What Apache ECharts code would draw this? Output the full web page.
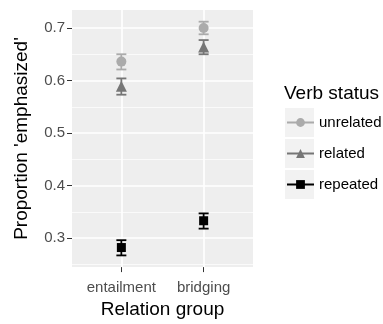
<!DOCTYPE html>
<html>
<head>
<meta charset="utf-8">
<script src="https://cdn.jsdelivr.net/npm/echarts@6/dist/echarts.min.js"></script>
<style>
  html, body { margin: 0; padding: 0; background: #fff; }
  #chart { width: 383px; height: 324px; }
</style>
</head>
<body>
<div id="chart"></div>
<script>
const groups = ["entailment", "bridging"];
const statuses = ["unrelated", "related", "repeated"];
const colors = ["#ababab", "#767676", "#000000"];
const shapes = ["circle", "triangle", "rect"];

// proportion emphasized and error bar ends, one value per relation group
const means = [
  [0.636, 0.700],
  [0.589, 0.664],
  [0.282, 0.333],
];
const lows = [
  [0.621, 0.688],
  [0.573, 0.650],
  [0.267, 0.318],
];
const highs = [
  [0.650, 0.712],
  [0.604, 0.677],
  [0.296, 0.347],
];

const yTicks = [0.3, 0.4, 0.5, 0.6, 0.7];
const yMinor = [0.25, 0.35, 0.45, 0.55, 0.65];
const xTicks = [1, 2];

const font = "'Liberation Sans', Arial, sans-serif";

// ggplot style 5% expansion
const allLo = Math.min(...lows.flat());
const allHi = Math.max(...highs.flat());
const pad = (allHi - allLo) * 0.05;

const series = [];
statuses.forEach((s, i) => {
  series.push({
    name: s,
    type: "line",
    data: groups.map((g, j) => [j + 1, means[i][j]]),
    symbol: shapes[i],
    symbolSize: shapes[i] === "rect" ? 9 : (shapes[i] === "triangle" ? 11 : 10),
    itemStyle: { color: colors[i] },
    lineStyle: { opacity: 0, color: colors[i] },
    z: 3,
  });
  series.push({
    name: s + " errorbar",
    type: "custom",
    renderItem: (params, api) => {
      const x = api.value(0);
      const top = api.coord([x, api.value(2)]);
      const bot = api.coord([x, api.value(1)]);
      const w = 5;
      const style = { stroke: colors[i], lineWidth: 1.8, fill: null };
      return {
        type: "group",
        children: [
          { type: "line", shape: { x1: top[0], y1: top[1], x2: bot[0], y2: bot[1] }, style },
          { type: "line", shape: { x1: top[0] - w, y1: top[1], x2: top[0] + w, y2: top[1] }, style },
          { type: "line", shape: { x1: bot[0] - w, y1: bot[1], x2: bot[0] + w, y2: bot[1] }, style },
        ],
      };
    },
    itemStyle: { color: colors[i] },
    data: groups.map((g, j) => [j + 1, lows[i][j], highs[i][j]]),
    z: 2,
  });
});

const chart = echarts.init(document.getElementById("chart"));
chart.setOption({
  animation: false,
  textStyle: { fontFamily: font },
  title: {
    text: "Verb status",
    left: 284,
    top: 84,
    padding: 0,
    textStyle: { fontSize: 19, fontWeight: "normal", color: "#000", fontFamily: font },
  },
  graphic: [0, 1, 2].map((k) => ({
    type: "rect",
    left: 285,
    top: 108 + k * 31,
    shape: { width: 29, height: 29 },
    style: { fill: "#f2f2f2" },
    z: 0,
  })),
  legend: {
    orient: "vertical",
    left: 286,
    top: 107,
    padding: 0,
    itemGap: 0,
    itemWidth: 27,
    itemHeight: 11,
    data: statuses,
    lineStyle: { width: 2, opacity: 1 },
    textStyle: { fontSize: 15, color: "#000", lineHeight: 31, fontFamily: font },
    selectedMode: false,
  },
  grid: {
    left: 72,
    right: 130,
    top: 10,
    bottom: 47,
    show: true,
    backgroundColor: "#eeeeee",
    borderWidth: 0,
  },
  xAxis: {
    type: "value",
    min: 0.4,
    max: 2.6,
    name: "Relation group",
    nameLocation: "middle",
    nameGap: 25,
    nameTextStyle: { fontSize: 19, color: "#000", fontFamily: font },
    axisLine: { show: false },
    axisTick: { show: true, length: 5, lineStyle: { color: "#333", width: 1 }, customValues: xTicks },
    axisLabel: {
      customValues: xTicks,
      margin: 13,
      fontSize: 15,
      color: "#4d4d4d",
      formatter: (v) => groups[Math.round(v) - 1],
    },
    splitLine: { show: true, lineStyle: { color: "#fff", width: 1.6 } },
  },
  yAxis: [
    {
      type: "value",
      min: allLo - pad,
      max: allHi + pad,
      name: "Proportion 'emphasized'",
      nameLocation: "middle",
      nameGap: 41,
      nameTextStyle: { fontSize: 19, color: "#000", fontFamily: font },
      axisLine: { show: false },
      axisTick: { show: true, length: 5, lineStyle: { color: "#333", width: 1 }, customValues: yTicks },
      axisLabel: {
        customValues: yTicks,
        margin: 7,
        fontSize: 15,
        color: "#4d4d4d",
        formatter: (v) => v.toFixed(1),
      },
      splitLine: { show: true, lineStyle: { color: "#fff", width: 1.6 } },
    },
    {
      type: "value",
      min: allLo - pad,
      max: allHi + pad,
      position: "left",
      axisLine: { show: false },
      axisTick: { show: false, customValues: yMinor },
      axisLabel: { show: false, customValues: yMinor },
      splitLine: { show: true, lineStyle: { color: "#fff", width: 0.7 } },
    },
  ],
  series: series,
});
</script>
</body>
</html>
